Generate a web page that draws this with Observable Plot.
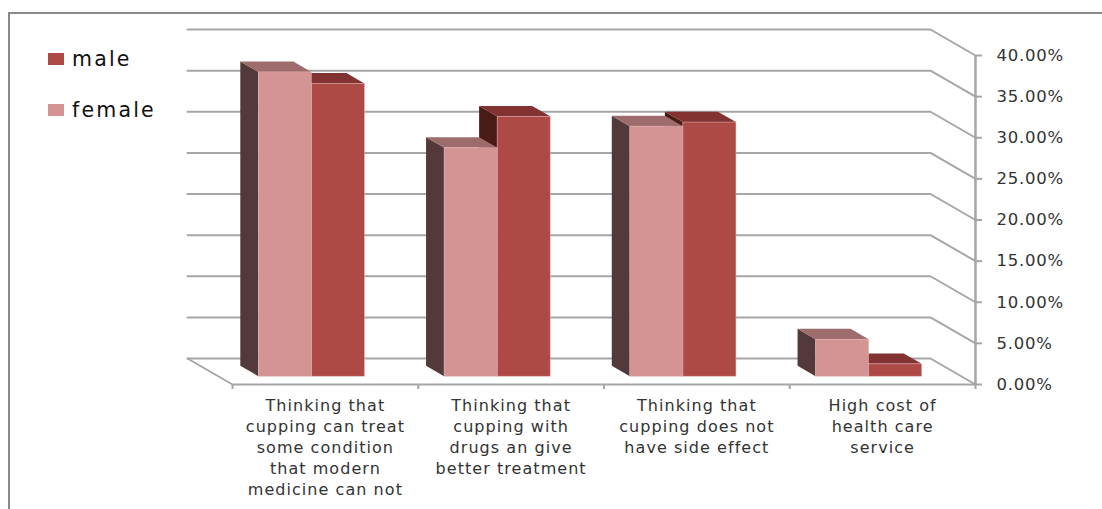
<!DOCTYPE html>
<html>
<head>
<meta charset="utf-8">
<script src="https://cdn.jsdelivr.net/npm/d3@7"></script>
<script src="https://cdn.jsdelivr.net/npm/@observablehq/plot@0.6"></script>
<style>
  html, body { margin: 0; padding: 0; background: #fff; overflow: hidden; }
  #stage { position: relative; width: 1102px; height: 509px; overflow: hidden; font-family: "DejaVu Sans", sans-serif; }
  #frame { position: absolute; left: 8px; top: 12px; right: -4px; bottom: -4px; border: 2px solid #8a8a8a; }
  #chart { position: absolute; left: 0; top: 0; }
  #chart g[aria-label="text"] text { letter-spacing: 1.05px; }
  #chart g[aria-label="y-axis tick label"] text { letter-spacing: 0.75px; }
  #legend { position: absolute; left: 48px; top: 0; }
  .row { position: absolute; left: 0; display: flex; align-items: center; height: 26px; white-space: nowrap;
         font-size: 20.5px; letter-spacing: 2.2px; color: #111; }
  .swatch { width: 16px; height: 12px; margin-right: 8px; flex: none; }
</style>
</head>
<body>
<div id="stage">
  <div id="frame"></div>
  <div id="chart"></div>
  <div id="legend"></div>
</div>
<script>
// Survey answers, in percent
const categories = [
  "Thinking that\ncupping can treat\nsome condition\nthat modern\nmedicine can not",
  "Thinking that\ncupping with\ndrugs an give\nbetter treatment",
  "Thinking that\ncupping does not\nhave side effect",
  "High cost of\nhealth care\nservice"
];
const femaleValues = [37.0, 27.8, 30.4, 4.5];
const maleValues = [35.6, 31.6, 30.9, 1.5];
const percentTicks = [0, 5, 10, 15, 20, 25, 30, 35, 40];

// Oblique projection: how far a point at full depth shifts, in data units
const depthX = -0.2423;   // category widths
const depthY = 3.161;     // percentage points
const barWidth = 1 / 3.5; // two bars plus a 150% gap
const barNear = 0.3;
const barFar = 0.7;

const palette = {
  female: {front: "#d49493", top: "#9e6c6c", side: "#533939"},
  male: {front: "#ae4a46", top: "#833232", side: "#4a1a16"}
};
const gridColor = "#a6a6a6";
const edgeColor = "#dfb4b2";

const px = (x, d) => x + d * depthX;
const py = (y, d) => y + d * depthY;

// One series as three faces per category; each face is data in chart units
function barFaces(values, leftOffset, colors) {
  const bars = values.map((value, i) => ({i, value, left: i + 0.5 + leftOffset, right: i + 0.5 + leftOffset + barWidth}));
  const ends = bars.flatMap((b) => [barNear, barFar].map((d) => ({...b, d})));
  return [
    Plot.area(ends, {
      x1: (p) => px(p.left, p.d), x2: (p) => px(p.left, p.d),
      y1: (p) => py(0, p.d), y2: (p) => py(p.value, p.d),
      z: "i", fill: colors.side
    }),
    Plot.area(ends, {
      x1: (p) => px(p.left, p.d), x2: (p) => px(p.right, p.d),
      y1: (p) => py(p.value, p.d), y2: (p) => py(p.value, p.d),
      z: "i", fill: colors.top
    }),
    Plot.rect(bars, {
      x1: (b) => px(b.left, barNear), x2: (b) => px(b.right, barNear),
      y1: () => py(0, barNear), y2: (b) => py(b.value, barNear),
      fill: colors.front, stroke: edgeColor, strokeWidth: 0.5
    })
  ];
}

// Gridlines run along the back wall, then forward to the axis
const gridPoints = percentTicks.flatMap((t) => [
  {t, x: 4, y: t},
  {t, x: px(4, 1), y: py(t, 1)},
  {t, x: px(0, 1), y: py(t, 1)}
]);
const floorFront = [
  {x: px(0, 1), y: py(0, 1)},
  {x: 0, y: 0},
  {x: 4, y: 0}
];

const chart = Plot.plot({
  width: 1102,
  height: 509,
  marginLeft: 232,
  marginRight: 127,
  marginTop: 55,
  marginBottom: 125,
  style: {fontFamily: "DejaVu Sans", fontSize: "16px", background: "transparent", overflow: "visible"},
  x: {type: "linear", domain: [0, 4]},
  y: {domain: [0, 40]},
  marks: [
    Plot.line(gridPoints, {x: "x", y: "y", z: "t", stroke: gridColor, strokeWidth: 2}),
    Plot.line(floorFront, {x: "x", y: "y", stroke: gridColor, strokeWidth: 2}),
    Plot.ruleX([4], {y1: 0, y2: 40, stroke: gridColor, strokeWidth: 2.5}),
    Plot.axisX({ticks: [0, 1, 2, 3, 4], tickSize: 5, stroke: gridColor, strokeWidth: 2, tickFormat: () => "", label: null}),
    Plot.axisY({
      anchor: "right", ticks: percentTicks, tickSize: 6, tickPadding: 15, label: null,
      stroke: gridColor, strokeWidth: 2, color: "#333",
      fontSize: 16.5, tickFormat: (d) => d.toFixed(2) + "%"
    }),
    // male sits behind so the female front hides the part of it they share
    ...barFaces(maleValues, 0, palette.male),
    ...barFaces(femaleValues, -barWidth, palette.female),
    Plot.text(categories, {
      x: (d, i) => i + 0.5, y: () => 0,
      dy: 12, lineAnchor: "top", lineHeight: 1.31, textAnchor: "middle",
      fill: "#333", fontSize: 16
    })
  ]
});
document.getElementById("chart").append(chart);

// Legend, male first
const legend = d3.select("#legend");
[["male", palette.male.front, 46], ["female", palette.female.front, 97]].forEach(([name, color, top]) => {
  const row = legend.append("div").attr("class", "row").style("top", top + "px");
  row.append("span").attr("class", "swatch").style("background", color);
  row.append("span").text(name);
});
</script>
</body>
</html>
